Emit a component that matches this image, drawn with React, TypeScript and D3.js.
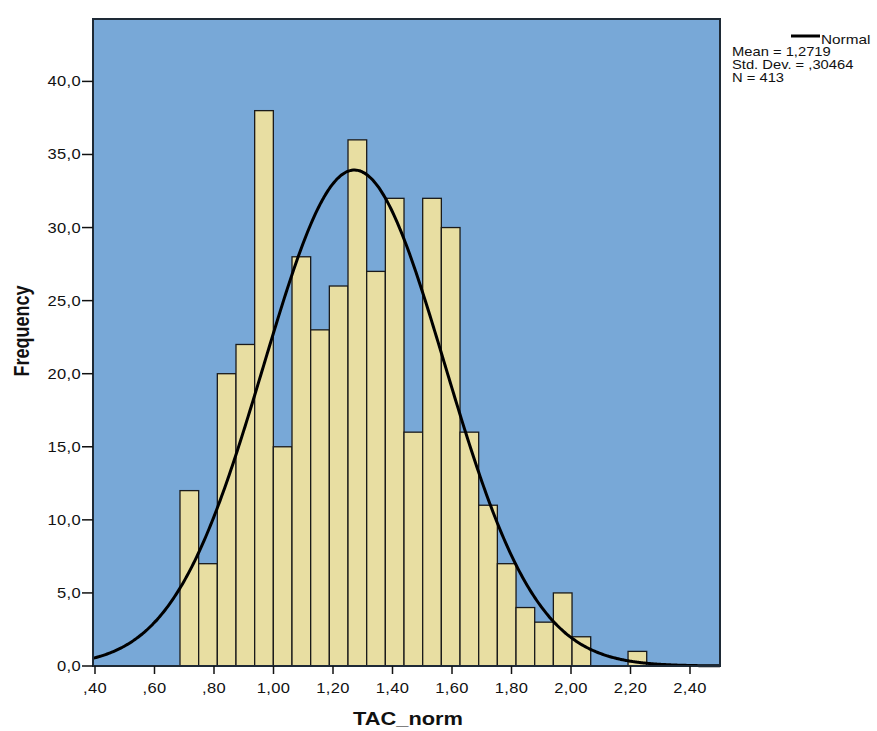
import React from "react";
import * as d3 from "d3";

// Histogram counts per bin (left to right)
const counts: number[] = [12, 7, 20, 22, 38, 15, 28, 23, 26, 36, 27, 32, 16, 32, 30, 16, 11, 7, 4, 3, 5, 2, 0, 0, 1];
const binStart = 0.6857;
const binWidth = 0.06275;

const xTicks: number[] = [0.4, 0.6, 0.8, 1.0, 1.2, 1.4, 1.6, 1.8, 2.0, 2.2, 2.4];
const xTickLabels: string[] = [",40", ",60", ",80", "1,00", "1,20", "1,40", "1,60", "1,80", "2,00", "2,20", "2,40"];
const yTicks: number[] = [0, 5, 10, 15, 20, 25, 30, 35, 40];
const yTickLabels: string[] = ["0,0", "5,0", "10,0", "15,0", "20,0", "25,0", "30,0", "35,0", "40,0"];

const mean = 1.2719;
const sd = 0.30464;
const N = 413;
const legendLines: string[] = ["Mean = 1,2719", "Std. Dev. = ,30464", "N = 413"];

const SX = 1.18;
const FONT = "Arial, 'Liberation Sans', sans-serif";

function T(props: { x: number; y: number; size: number; anchor?: string; bold?: boolean; rotate?: number; spacing?: number; children: React.ReactNode }) {
  const { x, y, size, anchor = "start", bold = false, rotate = 0, spacing = 0 } = props;
  return (
    <text
      transform={`translate(${x},${y}) scale(${SX},1)${rotate ? ` rotate(${rotate})` : ""}`}
      fontSize={size}
      fontFamily={FONT}
      fontWeight={bold ? "bold" : "normal"}
      textAnchor={anchor}
      letterSpacing={spacing}
      fill="#111"
    >
      {props.children}
    </text>
  );
}

export default function App() {
  const W = 877, H = 731;
  const left = 93, right = 720, top = 19, bottom = 666;
  const x = d3.scaleLinear().domain([0.3933, 2.5008]).range([left, right]);
  const y = d3.scaleLinear().domain([0, 44.27]).range([bottom, top]);

  const bins = counts.map((c, i) => ({ x0: binStart + i * binWidth, x1: binStart + (i + 1) * binWidth, c }));

  const [d0, d1] = x.domain();
  const curvePts: [number, number][] = d3.range(0, 401).map((i) => {
    const v = d0 + ((d1 - d0) * i) / 400;
    const z = (v - mean) / sd;
    const f = (N * binWidth * Math.exp(-0.5 * z * z)) / (sd * Math.sqrt(2 * Math.PI));
    return [v, f];
  });
  const line = d3.line<[number, number]>().x((d) => x(d[0])).y((d) => y(d[1])).curve(d3.curveBasis);

  return (
    <svg width={W} height={H} style={{ position: "absolute", left: 0, top: 0, background: "#fff" }}>
      <rect x={0} y={0} width={W} height={H} fill="#fff" />
      <rect x={left} y={top} width={right - left} height={bottom - top} fill="#78a8d7" />
      {bins.filter((b) => b.c > 0).map((b, i) => (
        <rect
          key={i}
          x={x(b.x0)}
          y={y(b.c)}
          width={x(b.x1) - x(b.x0)}
          height={y(0) - y(b.c)}
          fill="#e8dea2"
          stroke="#1a1a1a"
          strokeWidth={1.3}
        />
      ))}
      <path d={line(curvePts) || ""} fill="none" stroke="#000" strokeWidth={3} />
      <rect x={left} y={top} width={right - left} height={bottom - top} fill="none" stroke="#1e2a36" strokeWidth={2} />
      {yTicks.map((t, i) => (
        <g key={"y" + i}>
          <line x1={left - 11} x2={left} y1={y(t)} y2={y(t)} stroke="#111" strokeWidth={1.5} />
          <T x={left - 12} y={y(t) + 5} size={14} anchor="end" spacing={0.3}>{yTickLabels[i]}</T>
        </g>
      ))}
      {xTicks.map((t, i) => (
        <g key={"x" + i}>
          <line x1={x(t)} x2={x(t)} y1={bottom} y2={bottom + 8} stroke="#111" strokeWidth={1.5} />
          <T x={x(t)} y={bottom + 27} size={14} anchor="middle" spacing={0.3}>{xTickLabels[i]}</T>
        </g>
      ))}
      <T x={408} y={725} size={18.5} anchor="middle" bold>TAC_norm</T>
      <T x={29} y={331} size={18} anchor="middle" bold rotate={-90}>Frequency</T>
      <line x1={791} x2={820} y1={36} y2={36} stroke="#000" strokeWidth={3} />
      <T x={821} y={44} size={13}>Normal</T>
      {legendLines.map((s, i) => (
        <T key={"l" + i} x={732} y={56 + i * 13} size={12.5}>{s}</T>
      ))}
    </svg>
  );
}
